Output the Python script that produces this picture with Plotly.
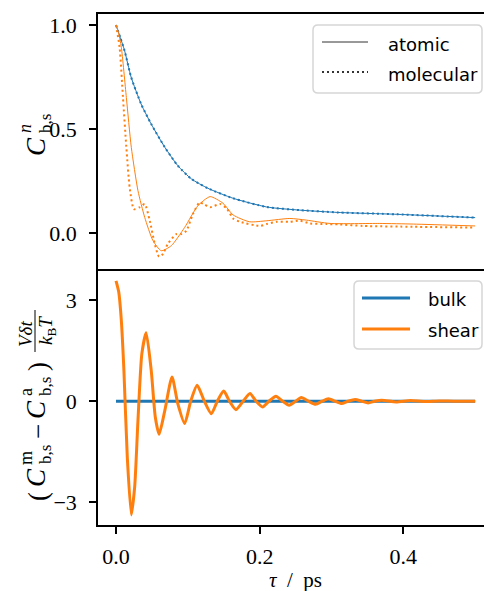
import plotly.graph_objects as go
from plotly.subplots import make_subplots

# ---------------------------------------------------------------- data
# normalised bulk / shear correlation functions C^n_{b,s}(tau)
bulk_x = [0, 0.006, 0.012, 0.021, 0.035, 0.049, 0.068, 0.086, 0.105, 0.128,
          0.163, 0.21, 0.256, 0.309, 0.391, 0.5]
bulk_atomic = [1.0, 0.94, 0.876, 0.75, 0.62, 0.524, 0.412, 0.324, 0.26, 0.215,
               0.167, 0.125, 0.11, 0.099, 0.09, 0.074]
bulk_molecular = [1.0, 0.94, 0.876, 0.75, 0.62, 0.524, 0.412, 0.324, 0.26, 0.215,
                  0.167, 0.125, 0.11, 0.099, 0.09, 0.074]

shear_atomic_x = [0, 0.003, 0.0074, 0.0144, 0.0213, 0.0306, 0.040, 0.0515, 0.063,
                  0.077, 0.0956, 0.114, 0.131, 0.149, 0.163, 0.186, 0.21, 0.242,
                  0.265, 0.298, 0.367, 0.414, 0.5]
shear_atomic = [1.0, 0.97, 0.893, 0.652, 0.412, 0.203, 0.075, -0.037, -0.085,
                -0.061, 0.027, 0.131, 0.175, 0.143, 0.087, 0.054, 0.059, 0.070,
                0.062, 0.046, 0.046, 0.043, 0.034]

shear_molecular_x = [0, 0.005, 0.0097, 0.0144, 0.019, 0.025, 0.033, 0.040, 0.047,
                     0.054, 0.060, 0.0654, 0.072, 0.084, 0.091, 0.098, 0.107,
                     0.1165, 0.1235, 0.131, 0.145, 0.154, 0.163, 0.1726, 0.2004,
                     0.2097, 0.2236, 0.242, 0.256, 0.27, 0.293, 0.309, 0.344,
                     0.414, 0.5]
shear_molecular = [1.0, 0.893, 0.652, 0.412, 0.22, 0.115, 0.124, 0.139, 0.059,
                   -0.053, -0.114, -0.101, -0.053, -0.005, -0.005, 0.011, 0.091,
                   0.147, 0.136, 0.124, 0.139, 0.119, 0.070, 0.054, 0.034,
                   0.043, 0.054, 0.054, 0.059, 0.046, 0.043, 0.042, 0.034,
                   0.030, 0.026]

# difference (molecular - atomic) scaled by V dt / kB T
diff_bulk_x = [0, 0.5]
diff_bulk = [0.0, 0.0]

diff_shear_x = [0, 0.0037, 0.0074, 0.011, 0.0157, 0.0213, 0.026, 0.0306, 0.036,
                0.042, 0.049, 0.0547, 0.060, 0.068, 0.078, 0.086, 0.0956, 0.104,
                0.113, 0.123, 0.1327, 0.141, 0.150, 0.158, 0.167, 0.177, 0.1865,
                0.195, 0.204, 0.213, 0.2227, 0.232, 0.241, 0.25, 0.258, 0.268,
                0.278, 0.287, 0.2955, 0.305, 0.314, 0.323, 0.333, 0.342, 0.351,
                0.36, 0.37, 0.39, 0.41, 0.43, 0.45, 0.47, 0.5]
diff_shear = [3.57, 3.25, 2.40, 0.92, -1.65, -3.37, -2.54, -0.56, 1.41, 2.03,
              0.92, -0.47, -0.98, -0.27, 0.72, -0.07, -0.66, 0.0, 0.47, 0.0,
              -0.37, 0.0, 0.30, 0.0, -0.25, 0.0, 0.23, 0.0, -0.17, 0.0, 0.15,
              0.0, -0.12, 0.0, 0.11, 0.0, -0.09, 0.0, 0.07, 0.0, -0.07, 0.0,
              0.05, 0.0, -0.05, 0.0, 0.03, -0.02, 0.02, -0.01, 0.01, 0.0, 0.0]

top_ticks = [0, 0.5, 1.0]
top_ticktext = ["0.0", "0.5", "1.0"]
bottom_ticks = [-3, 0, 3]
bottom_ticktext = ["\u22123", "0", "3"]
x_ticks = [0, 0.2, 0.4]
x_ticktext = ["0.0", "0.2", "0.4"]

# ---------------------------------------------------------------- style
BLUE = "#1f77b4"
ORANGE = "#ff7f0e"
SERIF = "Liberation Serif"
SANS = "DejaVu Sans"
DOT = "2px,3px"

W, H = 484, 591
L, R, T, B = 98, 0, 14, 66
PW, PH = W - L - R, H - T - B


def px(x):
    return (x - L) / PW


def py(y):
    return (H - B - y) / PH


fig = make_subplots(rows=2, cols=1, shared_xaxes=True, vertical_spacing=0)

spline = dict(shape="spline", smoothing=0.6)

fig.add_trace(go.Scatter(x=bulk_x, y=bulk_atomic, mode="lines",
                         line=dict(color=BLUE, width=1, **spline)), row=1, col=1)
fig.add_trace(go.Scatter(x=bulk_x, y=bulk_molecular, mode="lines",
                         line=dict(color=BLUE, width=2, dash=DOT, **spline)), row=1, col=1)
fig.add_trace(go.Scatter(x=shear_atomic_x, y=shear_atomic, mode="lines",
                         line=dict(color=ORANGE, width=1, **spline)), row=1, col=1)
fig.add_trace(go.Scatter(x=shear_molecular_x, y=shear_molecular, mode="lines",
                         line=dict(color=ORANGE, width=2, dash=DOT, **spline)), row=1, col=1)

fig.add_trace(go.Scatter(x=diff_bulk_x, y=diff_bulk, mode="lines",
                         line=dict(color=BLUE, width=3)), row=2, col=1)
fig.add_trace(go.Scatter(x=diff_shear_x, y=diff_shear, mode="lines",
                         line=dict(color=ORANGE, width=3, **spline)), row=2, col=1)

axis_common = dict(showline=True, linecolor="black", linewidth=1.6,
                   showgrid=False, zeroline=False,
                   tickfont=dict(family=SERIF, size=22, color="black"),
                   tickcolor="black", ticklen=7, tickwidth=1.6)

xr = [-0.02506, 0.5123]
fig.update_layout(
    # top panel: frame line above and below, no ticks
    xaxis=dict(**axis_common, range=xr, domain=[0, 1], mirror=True,
               ticks="", showticklabels=False),
    # bottom panel: only the lower frame line (the shared edge comes from above)
    xaxis2=dict(**axis_common, range=xr, domain=[0, 1], mirror=False,
                ticks="outside", tickvals=x_ticks, ticktext=x_ticktext,
                ticklabelstandoff=4),
    yaxis=dict(**axis_common, range=[-0.173, 1.053], domain=[256 / PH, 1],
               ticks="outside", tickvals=top_ticks, ticktext=top_ticktext,
               ticklabelstandoff=8),
    yaxis2=dict(**axis_common, range=[-3.67, 3.92], domain=[0, 256 / PH],
                ticks="outside", tickvals=bottom_ticks, ticktext=bottom_ticktext,
                ticklabelstandoff=8),
    width=W, height=H,
    margin=dict(l=L, r=R, t=T, b=B, pad=0),
    paper_bgcolor="white", plot_bgcolor="white",
    showlegend=False,
)

shapes = []
annotations = []


def text(s, x, y, size, family=SERIF, angle=0, xanchor="center", color="black"):
    annotations.append(dict(text=s, x=px(x), y=py(y), xref="paper", yref="paper",
                            showarrow=False, textangle=angle, xanchor=xanchor,
                            yanchor="middle",
                            font=dict(family=family, size=size, color=color)))


def rounded_box(x0, y0, x1, y1, r=5):
    X0, X1 = px(x0), px(x1)
    Y0, Y1 = py(y0), py(y1)
    rx, ry = r / PW, r / PH
    path = (f"M {X0 + rx},{Y0} L {X1 - rx},{Y0} Q {X1},{Y0} {X1},{Y0 - ry} "
            f"L {X1},{Y1 + ry} Q {X1},{Y1} {X1 - rx},{Y1} "
            f"L {X0 + rx},{Y1} Q {X0},{Y1} {X0},{Y1 + ry} "
            f"L {X0},{Y0 - ry} Q {X0},{Y0} {X0 + rx},{Y0} Z")
    shapes.append(dict(type="path", path=path, xref="paper", yref="paper",
                       line=dict(color="#d6d6d6", width=1.5),
                       fillcolor="rgba(255,255,255,0.8)", layer="above"))


def legend_line(x0, x1, y, color, width, dash="solid"):
    shapes.append(dict(type="line", x0=px(x0), x1=px(x1), y0=py(y), y1=py(y),
                       xref="paper", yref="paper", layer="above",
                       line=dict(color=color, width=width, dash=dash)))


# legend: atomic / molecular
rounded_box(313, 25, 482, 93)
legend_line(322, 368, 42, "#333333", 1)
legend_line(322, 368, 72, "#333333", 2, DOT)
text("atomic", 386, 44, 18, SANS, xanchor="left")
text("molecular", 386, 74, 18, SANS, xanchor="left")

# legend: bulk / shear
rounded_box(354, 281, 482, 349)
legend_line(362, 410, 298, BLUE, 3)
legend_line(362, 410, 329, ORANGE, 3)
text("bulk", 426, 299, 18, SANS, xanchor="left")
text("shear", 426, 330, 18, SANS, xanchor="left")

# x-axis title
text("<i>\u03c4</i>  /  ps", 295.5, 580, 21)

# y-axis title, top panel: C^n_{b,s}
text("<i>C</i>", 36, 147, 27, angle=-90)
text("<i>n</i>", 25, 129, 18, angle=-90)
text("b,s", 45, 124, 17, angle=-90)

# y-axis title, bottom panel: (C^m_{b,s} - C^a_{b,s}) V dt / (kB T)
text("(", 38, 497, 27, angle=-90)
text("<i>C</i>", 36, 478, 27, angle=-90)
text("m", 26, 458, 18, angle=-90)
text("b,s", 45, 455, 17, angle=-90)
text("\u2212", 38, 432, 27, angle=-90)
text("<i>C</i>", 36, 410, 27, angle=-90)
text("a", 26, 392, 18, angle=-90)
text("b,s", 45, 387, 17, angle=-90)
text(")", 38, 367, 27, angle=-90)
text("<i>V\u03b4t</i>", 25, 334, 19, angle=-90)
text("<i>k</i><sub>B</sub><i>T</i>", 47, 331, 19, angle=-90)
shapes.append(dict(type="line", x0=px(35), x1=px(35), y0=py(352), y1=py(310),
                   xref="paper", yref="paper", line=dict(color="black", width=1)))

fig.update_layout(shapes=shapes, annotations=annotations)

fig.write_html("out.html")
